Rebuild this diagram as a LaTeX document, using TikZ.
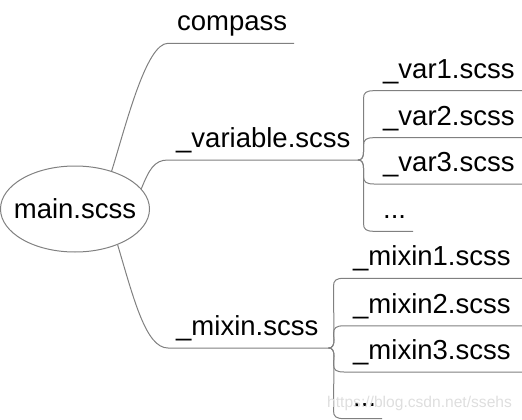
\documentclass[tikz,border=0pt]{standalone}
\usepackage{fontspec}
\setmainfont{Liberation Sans}
\usetikzlibrary{shapes.geometric,calc}
\definecolor{lg}{RGB}{128,128,128}
\definecolor{wm}{RGB}{222,222,222}
\tikzset{
  conn/.style={draw=lg, line width=1pt},
  lbl/.style={anchor=base west, inner sep=0pt, font=\fontsize{27.5}{33}\selectfont},
  brace/.style={to path={.. controls ($(\tikztostart)+(4,0)$) and ($(\tikztostart)+(5.5,#1*3)$) .. ($(\tikztostart)+(5.5,#1*8)$) -- ($(\tikztotarget)+(-10.5,-#1*8)$) .. controls ($(\tikztotarget)+(-10.5,-#1*2)$) and ($(\tikztotarget)+(-8,0)$) .. (\tikztotarget)}}
}
\begin{document}
\begin{tikzpicture}[x=1pt,y=-1pt]
\useasboundingbox (0,0) rectangle (522,420);
% root
\node[ellipse, draw=lg, line width=1pt, minimum width=149pt, minimum height=86pt, inner sep=0pt,
      font=\fontsize{27.5}{33}\selectfont] (main) at (75,209) {\makebox[0pt]{\raisebox{1.5pt}{main.scss}}};
% level 1 coordinates
\coordinate (cs) at (168,43.3);   \coordinate (ce) at (294,43.3);
\coordinate (vs) at (168,160);    \coordinate (vb) at (358,160);
\coordinate (ms) at (168,348);    \coordinate (mb) at (328.5,348);
% labels level 1
\node[lbl] (compass) at (177,30.3) {compass};
\node[lbl] (variable) at (176,147) {\_variable.scss};
\node[lbl] (mixin) at (176,335) {\_mixin.scss};
% connectors level 1
\draw[conn] (main.46) .. controls (126,125) and (146,43.3) .. (cs) -- (ce);
\draw[conn] (main.17) .. controls (149,170) and (154,160) .. (vs) -- (vb);
\draw[conn] (main.-40.6) .. controls (134,300) and (146,348) .. (ms) -- (mb);
% var children
\coordinate (v1s) at (374,90.7);  \coordinate (v1e) at (522,90.7);
\coordinate (v2s) at (374,137.7); \coordinate (v2e) at (522,137.7);
\coordinate (v3s) at (374,184);   \coordinate (v3e) at (522,184);
\coordinate (v4s) at (374,231.3); \coordinate (v4e) at (413,231.3);
\draw[conn] (vb) to[brace=-1] (v1s) -- (v1e);
\draw[conn] (vb) to[brace=-1] (v2s) -- (v2e);
\draw[conn] (vb) to[brace=1] (v3s) -- (v3e);
\draw[conn] (vb) to[brace=1] (v4s) -- (v4e);
\node[lbl] (var1) at (383,78) {\_var1.scss};
\node[lbl] (var2) at (383,125) {\_var2.scss};
\node[lbl] (var3) at (383,171) {\_var3.scss};
\node[lbl] (vdots) at (383,218) {...};
% mixin children
\coordinate (m1s) at (344,278.3); \coordinate (m1e) at (522,278.3);
\coordinate (m2s) at (344,325.8); \coordinate (m2e) at (522,325.8);
\coordinate (m3s) at (344,372);   \coordinate (m3e) at (522,372);
\coordinate (m4s) at (344,418.6); \coordinate (m4e) at (382,418.6);
\draw[conn] (mb) to[brace=-1] (m1s) -- (m1e);
\draw[conn] (mb) to[brace=-1] (m2s) -- (m2e);
\draw[conn] (mb) to[brace=1] (m3s) -- (m3e);
\draw[conn] (mb) to[brace=1] (m4s) -- (m4e);
\node[lbl] (mixin1) at (353,265.5) {\_mixin1.scss};
\node[lbl] (mixin2) at (353,313) {\_mixin2.scss};
\node[lbl] (mixin3) at (353,359) {\_mixin3.scss};
\node[lbl] (mdots) at (353,406) {...};
% watermark
\node[anchor=base west, inner sep=0pt, text=wm, font=\fontsize{15.6}{18}\selectfont] (wmark) at (327,407) {https://blog.csdn.net/ssehs};
\end{tikzpicture}
\end{document}
